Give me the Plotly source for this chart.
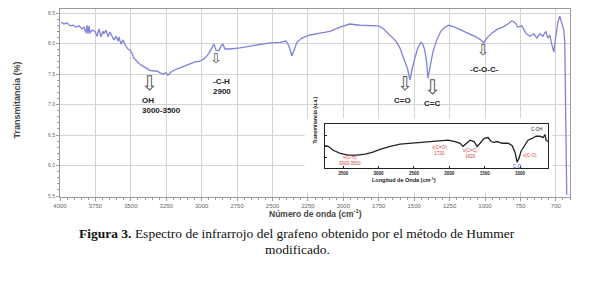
import plotly.graph_objects as go

# ---- main FTIR spectrum (wavenumber cm-1, transmittance) ----
wavenumber = [3993, 3972, 3951, 3929, 3908, 3887, 3866, 3845, 3831, 3817, 3809, 3802, 3795, 3788,
              3774, 3753, 3739, 3725, 3711, 3697, 3690, 3675, 3661, 3647, 3633, 3619, 3605, 3591,
              3584, 3570, 3555, 3541, 3520, 3506, 3492, 3478, 3457, 3436, 3414, 3393, 3365, 3337,
              3316, 3294, 3273, 3252, 3238, 3217, 3189, 3153, 3118, 3082, 3047, 3012, 2977, 2949,
              2927, 2913, 2899, 2878, 2864, 2850, 2836, 2800, 2730, 2659, 2589, 2518, 2448, 2405,
              2384, 2370, 2363, 2349, 2328, 2292, 2236, 2165, 2095, 2024, 1989, 1954, 1883, 1813,
              1756, 1721, 1686, 1657, 1629, 1601, 1573, 1545, 1530, 1516, 1495, 1474, 1453, 1439,
              1425, 1410, 1403, 1389, 1368, 1340, 1312, 1283, 1255, 1213, 1163, 1107, 1065, 1030,
              1009, 987, 952, 909, 874, 839, 811, 790, 768, 740, 712, 684, 655, 634, 613, 592, 571,
              557, 543, 529, 514, 500, 486, 472, 458, 444, 437, 430, 423]
transmittance = [8.35, 8.32, 8.34, 8.29, 8.30, 8.27, 8.29, 8.24, 8.27, 8.17, 8.30, 8.16, 8.29, 8.17,
                 8.22, 8.20, 8.12, 8.24, 8.11, 8.20, 8.16, 8.22, 8.11, 8.19, 8.12, 8.06, 8.12, 8.04,
                 8.11, 7.99, 8.06, 7.98, 7.91, 7.89, 7.84, 7.76, 7.71, 7.66, 7.63, 7.60, 7.56, 7.55,
                 7.55, 7.52, 7.50, 7.52, 7.48, 7.53, 7.57, 7.60, 7.63, 7.66, 7.70, 7.71, 7.76, 7.84,
                 7.94, 7.99, 7.89, 7.88, 7.96, 7.99, 7.91, 7.91, 7.93, 7.96, 7.98, 8.01, 8.02, 8.04,
                 7.96, 7.83, 7.80, 7.88, 8.02, 8.09, 8.14, 8.17, 8.20, 8.27, 8.30, 8.32, 8.30, 8.30,
                 8.29, 8.25, 8.17, 8.12, 8.04, 7.93, 7.76, 7.57, 7.40, 7.57, 7.76, 7.93, 8.02, 7.99,
                 7.89, 7.65, 7.43, 7.63, 7.86, 8.06, 8.20, 8.27, 8.30, 8.27, 8.22, 8.16, 8.11, 8.06,
                 8.01, 8.09, 8.17, 8.24, 8.27, 8.32, 8.37, 8.35, 8.27, 8.29, 8.17, 8.12, 8.16, 8.09,
                 8.16, 8.12, 8.20, 8.09, 8.14, 7.99, 7.86, 8.12, 8.35, 8.45, 8.35, 8.22, 8.02, 6.75, 5.52]

x_tickvals = [4000, 3750, 3500, 3250, 3000, 2750, 2500, 2250, 2000, 1750, 1500, 1250, 1000, 750, 500]
x_ticktext = ["4000", "3750", "3500", "3250", "3000", "2750", "2500", "2250", "2000", "1750",
              "1500", "1250", "1000", "750", "700"]
y_tickvals = [5.5, 6.0, 6.5, 7.0, 7.5, 8.0, 8.5]
y_ticktext = ["5.5", "6.0", "6.5", "7.0", "7.5", "8.0", "8.5"]

# ---- inset spectrum ----
inset_wavenumber = [3754, 3712, 3641, 3542, 3429, 3302, 3189, 3091, 2978, 2836, 2695, 2554, 2413,
                    2272, 2130, 2017, 1919, 1848, 1806, 1763, 1707, 1650, 1608, 1566, 1509, 1453,
                    1410, 1368, 1326, 1255, 1170, 1114, 1071, 1043, 1015, 987, 944, 888, 831, 775,
                    718, 676, 648, 634, 605]
inset_signal = [0.52, 0.50, 0.41, 0.34, 0.30, 0.30, 0.32, 0.36, 0.43, 0.50, 0.55, 0.57, 0.59,
                0.61, 0.64, 0.64, 0.61, 0.57, 0.50, 0.57, 0.64, 0.61, 0.50, 0.57, 0.68, 0.70,
                0.61, 0.59, 0.61, 0.57, 0.57, 0.52, 0.36, 0.14, 0.23, 0.39, 0.50, 0.64, 0.68, 0.73,
                0.73, 0.70, 0.77, 0.64, 0.61]
inset_tickvals = [3500, 3000, 2500, 2000, 1500, 1000]

# ---- band labels (wavenumber, transmittance) ----
arrow_x = [3365, 2899, 1566, 1368, 1008]
arrow_y = [7.35, 7.76, 7.35, 7.29, 7.89]
arrow_size = [20, 14, 19, 20, 15]
label_text = ["OH<br>3000-3500", "-C-H<br>2900", "C=O", "C=C", "-C-O-C-"]
label_x = [3436, 2935, 1580, 1375, 1001]
label_y = [6.98, 7.30, 7.07, 7.01, 7.58]
label_anchor = ["left", "left", "center", "center", "center"]

fig = go.Figure()
fig.add_trace(go.Scatter(x=wavenumber, y=transmittance, mode="lines",
                         line=dict(color="#7f82dc", width=1.3), showlegend=False,
                         xaxis="x", yaxis="y"))
# invisible helper subplot: its white background masks the grid behind the inset
fig.add_trace(go.Scatter(x=[0, 1], y=[0, 1], mode="lines", line=dict(width=0),
                         hoverinfo="skip", showlegend=False, xaxis="x2", yaxis="y2"))
fig.add_trace(go.Scatter(x=inset_wavenumber, y=inset_signal, mode="lines",
                         line=dict(color="#222222", width=1.3), showlegend=False,
                         xaxis="x3", yaxis="y3"))

annotations = []
for ax_, ay_, s in zip(arrow_x, arrow_y, arrow_size):
    annotations.append(dict(x=ax_, y=ay_, xref="x", yref="y", text="⇩", showarrow=False,
                            font=dict(family="DejaVu Sans", size=s, color="#555555")))
for t, lx, ly, an in zip(label_text, label_x, label_y, label_anchor):
    annotations.append(dict(x=lx, y=ly, xref="x", yref="y", text=t, showarrow=False,
                            xanchor=an, align="left",
                            font=dict(family="Liberation Sans", size=8, color="#222222", weight="bold")))

# inset small band labels
inset_lbl = [("ν(O-H)<br>3000-3500", 3400, 0.17, "#d04040"), ("ν(C=O)<br>1720", 2140, 0.40, "#d04040"),
             ("ν(C=C)<br>1620", 1700, 0.33, "#d04040"), ("C-O", 1040, 0.05, "#3050c0"),
             ("ν(C-O)", 860, 0.30, "#d04040"), ("C-OH", 760, 0.88, "#222222")]
for t, lx, ly, c in inset_lbl:
    annotations.append(dict(x=lx, y=ly, xref="x3", yref="y3", text=t, showarrow=False,
                            font=dict(family="Liberation Sans", size=4.5, color=c)))

# axis titles and caption
annotations += [
    dict(x=-0.098, y=0.513, xref="paper", yref="paper", text="Transmitancia (%)", textangle=-90,
         showarrow=False, font=dict(family="Liberation Sans", size=9, color="#444444", weight="bold")),
    dict(x=0.5, y=-0.128, xref="paper", yref="paper", text="Número de onda (cm<sup>-1</sup>)",
         showarrow=False, font=dict(family="Liberation Sans", size=8.5, color="#444444", weight="bold")),
    dict(x=0.741, y=0.062, xref="paper", yref="paper", text="Longitud de Onda (cm<sup>-1</sup>)",
         showarrow=False, font=dict(family="Liberation Sans", size=5.5, color="#222222", weight="bold")),
    dict(x=0.5, y=0.27, xref="paper", yref="paper", text="Transmitancia (u.a.)", textangle=-90,
         showarrow=False, font=dict(family="Liberation Sans", size=5, color="#222222", weight="bold")),
    dict(x=0.465, y=-0.243, xref="paper", yref="paper",
         text="<b>Figura 3.</b> Espectro de infrarrojo del grafeno obtenido por el método de Hummer",
         showarrow=False, font=dict(family="Liberation Serif", size=13.5, color="#111111")),
    dict(x=0.465, y=-0.328, xref="paper", yref="paper", text="modificado.",
         showarrow=False, font=dict(family="Liberation Serif", size=13.5, color="#111111")),
]

hidden = dict(visible=False, showgrid=False, zeroline=False, fixedrange=True)

# the page adds an 8 px body margin, so the figure is laid out 8 px up/left
fig.update_layout(
    width=610, height=288, autosize=False,
    margin=dict(l=52, r=48, t=1, b=99),
    paper_bgcolor="white", plot_bgcolor="white",
    xaxis=dict(range=[4000, 400], tickvals=x_tickvals, ticktext=x_ticktext,
               showgrid=True, gridcolor="#d4d4d4", gridwidth=1,
               showline=True, linecolor="#9a9a9a", linewidth=1, mirror=True,
               ticks="outside", ticklen=3, tickcolor="#9a9a9a",
               minor=dict(dtick=50, ticks="outside", ticklen=2, tickcolor="#9a9a9a", showgrid=False),
               tickfont=dict(family="Liberation Sans", size=6, color="#666666"), zeroline=False),
    yaxis=dict(range=[5.484, 8.566], tickvals=y_tickvals, ticktext=y_ticktext,
               showgrid=True, gridcolor="#d4d4d4", gridwidth=1,
               showline=True, linecolor="#9a9a9a", linewidth=1, mirror=True,
               ticks="outside", ticklen=3, tickcolor="#9a9a9a",
               minor=dict(dtick=0.1, ticks="outside", ticklen=2, tickcolor="#9a9a9a", showgrid=False),
               tickfont=dict(family="Liberation Sans", size=5, color="#666666"), zeroline=False),
    xaxis2=dict(domain=[0.480, 0.965], anchor="y2", range=[0, 1], **hidden),
    yaxis2=dict(domain=[0.025, 0.418], anchor="x2", range=[0, 1], **hidden),
    xaxis3=dict(domain=[0.520, 0.957], anchor="y3", range=[3754, 605], tickvals=inset_tickvals,
                showgrid=False, showline=True, linecolor="#222222", linewidth=1, mirror=True,
                ticks="inside", ticklen=2, tickcolor="#222222", zeroline=False,
                tickfont=dict(family="Liberation Sans", size=4.5, color="#222222", weight="bold")),
    yaxis3=dict(domain=[0.153, 0.386], anchor="x3", range=[0, 1], showticklabels=False,
                showgrid=False, showline=True, linecolor="#222222", linewidth=1, mirror=True,
                ticks="inside", ticklen=2, tickcolor="#222222", zeroline=False, dtick=0.25),
    annotations=annotations,
)

fig.write_html("out.html")
